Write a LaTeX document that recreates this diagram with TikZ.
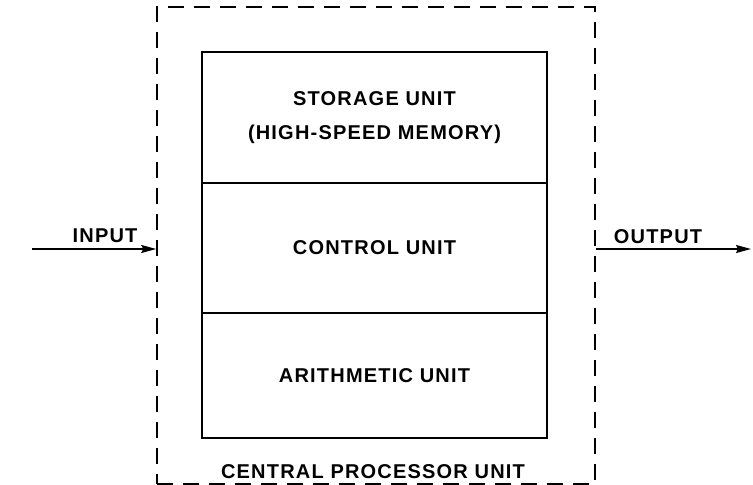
\documentclass[tikz,border=0pt]{standalone}
\usepackage{fontspec}
\setmainfont{Liberation Sans}[LetterSpace=6]
\usetikzlibrary{arrows.meta}
\begin{document}
\begin{tikzpicture}[x=1pt,y=-1pt,
  every node/.style={font=\fontsize{20}{24}\selectfont\bfseries, inner sep=0pt},
  unitbox/.style={draw, line width=1.7pt, minimum width=345pt, align=center},
  cpubox/.style={draw, line width=1.6pt, dash pattern=on 16pt off 10pt, minimum width=438pt, minimum height=477pt},
  flow/.style={line width=1.4pt, -{Stealth[length=15pt,width=8pt,inset=2pt]}},
  lbl/.style={anchor=base}]
\useasboundingbox (0,0) rectangle (753,485);
\node[cpubox] (cpu) at (376,245.5) {};
\node[unitbox, minimum height=131pt] (storage) at (374.5,117.5) {STORAGE UNIT\\[10pt](HIGH-SPEED MEMORY)};
\node[unitbox, minimum height=130pt] (control) at (374.5,248) {CONTROL UNIT};
\node[unitbox, minimum height=125pt] (arith) at (374.5,375.5) {ARITHMETIC UNIT};
\node[lbl] (cpulbl) at (373,478) {CENTRAL PROCESSOR UNIT};
\coordinate (inpt) at (32,249);
\coordinate (outpt) at (751,249);
\draw[flow] (inpt) -- (cpu.west |- inpt);
\draw[flow] (cpu.east |- outpt) -- (outpt);
\node[lbl] (inlbl) at (105,242) {INPUT};
\node[lbl] (outlbl) at (658,243) {OUTPUT};
\end{tikzpicture}
\end{document}
